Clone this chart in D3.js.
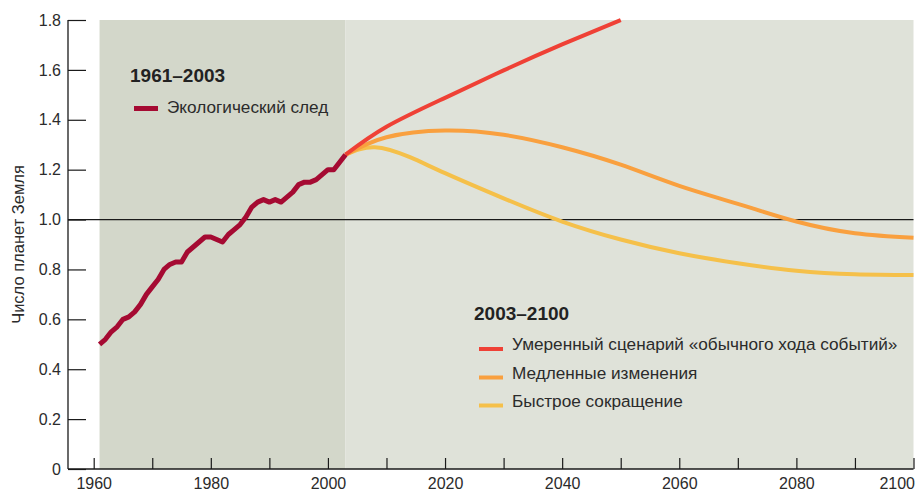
<!DOCTYPE html>
<html><head><meta charset="utf-8">
<script src="https://cdn.jsdelivr.net/npm/d3@7"></script>
<style>
html,body{margin:0;padding:0;background:#fff;}
svg{display:block;font-family:"Liberation Sans",Arial,sans-serif;}
</style></head>
<body><svg id="c" width="919" height="492"></svg>
<script>
// Ecological footprint 1961-2003 (number of planet Earths)
const fpYears = d3.range(1961, 2004);
const fpValues = [0.50,0.52,0.55,0.57,0.60,0.61,0.63,0.66,0.70,0.73,
  0.76,0.80,0.82,0.83,0.83,0.87,0.89,0.91,0.93,0.93,
  0.92,0.91,0.94,0.96,0.98,1.01,1.05,1.07,1.08,1.07,
  1.08,1.07,1.09,1.11,1.14,1.15,1.15,1.16,1.18,1.20,
  1.20,1.23,1.26];
// Scenarios 2003-2100
const redYears = [2003,2010,2020,2030,2040,2050];
const redValues = [1.26,1.372,1.488,1.598,1.702,1.80];
const orangeYears = [2003,2010,2020,2030,2040,2050,2060,2070,2080,2090,2100];
const orangeValues = [1.26,1.33,1.357,1.34,1.29,1.22,1.135,1.063,0.992,0.945,0.927];
const yellowYears = [2003,2008,2014,2020,2030,2040,2050,2060,2070,2080,2090,2100];
const yellowValues = [1.26,1.29,1.25,1.186,1.085,0.992,0.92,0.865,0.825,0.795,0.781,0.778];
const xTicks = d3.range(1960, 2101, 10);
const xLabelTicks = [1960,1980,2000,2020,2040,2060,2080,2100];
const yTicks = [0,0.2,0.4,0.6,0.8,1.0,1.2,1.4,1.6,1.8];
const yTitle = "Число планет Земля";
const legend1Title = "1961–2003";
const legend1Items = ["Экологический след"];
const legend2Title = "2003–2100";
const legend2Items = ["Умеренный сценарий «обычного хода событий»","Медленные изменения","Быстрое сокращение"];

const C = {fp:"#a50a32", red:"#ef4136", orange:"#f9a03f", yellow:"#f5c04a",
  bgDark:"#d3d7ca", bgLight:"#dfe2d9", text:"#2b2b2b"};

const svg = d3.select("#c");
const x = d3.scaleLinear().domain([1960,2100]).range([93.7,913.5]);
const y = d3.scaleLinear().domain([0,1.8]).range([469,20]);
const axisLeftX = 68;
const FONT = "'Liberation Sans',Arial,sans-serif";

// backgrounds
svg.append("rect").attr("x",x(1961)).attr("y",y(1.8)).attr("width",x(2003)-x(1961)).attr("height",y(0)-y(1.8)).attr("fill",C.bgDark);
svg.append("rect").attr("x",x(2003)).attr("y",y(1.8)).attr("width",x(2100)-x(2003)).attr("height",y(0)-y(1.8)).attr("fill",C.bgLight);

// reference line at 1.0
svg.append("line").attr("x1",axisLeftX).attr("x2",x(2100)).attr("y1",y(1)).attr("y2",y(1)).attr("stroke","#1a1a1a").attr("stroke-width",1.2);

// y axis
const yAxis = d3.axisLeft(y).tickValues(yTicks).tickSizeInner(-18).tickSizeOuter(0).tickPadding(7)
  .tickFormat(d => d===0 ? "0" : d3.format(".1f")(d));
const gy = svg.append("g").attr("transform",`translate(${axisLeftX},0)`).call(yAxis)
  .attr("font-size",16).attr("font-family",FONT);
gy.select(".domain").remove();
gy.selectAll(".tick line").attr("stroke","#1a1a1a").attr("stroke-width",1.2);
gy.selectAll(".tick text").attr("fill",C.text);
svg.append("line").attr("x1",axisLeftX).attr("x2",axisLeftX).attr("y1",y(1.8)).attr("y2",y(0)).attr("stroke","#1a1a1a").attr("stroke-width",1.3);

// x axis
const xAxis = d3.axisBottom(x).tickValues(xTicks).tickSizeInner(-11).tickSizeOuter(0).tickPadding(9)
  .tickFormat(d => xLabelTicks.includes(d) ? String(d) : "");
const gx = svg.append("g").attr("transform",`translate(0,${y(0)})`).call(xAxis)
  .attr("font-size",16).attr("font-family",FONT);
gx.select(".domain").remove();
gx.selectAll(".tick line").attr("stroke","#1a1a1a").attr("stroke-width",1.2);
gx.selectAll(".tick text").attr("fill",C.text)
  .attr("text-anchor", d => d===2100 ? "end" : "middle")
  .attr("x", d => d===2100 ? 1 : 0);
svg.append("line").attr("x1",axisLeftX).attr("x2",x(2100)).attr("y1",y(0)).attr("y2",y(0)).attr("stroke","#1a1a1a").attr("stroke-width",1.3);

// y title
svg.append("text").attr("transform",`translate(24,${(y(0)+y(1.8))/2}) rotate(-90)`)
  .attr("text-anchor","middle").attr("font-size",16.5).attr("fill",C.text).text(yTitle);

// lines
const line = d3.line().x(d=>x(d[0])).y(d=>y(d[1]));
function drawSeries(years, vals, color, w, curve){
  svg.append("path").datum(years.map((yr,i)=>[yr,vals[i]]))
    .attr("d", line.curve(curve)).attr("fill","none").attr("stroke",color)
    .attr("stroke-width",w).attr("stroke-linejoin","round").attr("stroke-linecap","butt");
}
drawSeries(yellowYears, yellowValues, C.yellow, 4, d3.curveNatural);
drawSeries(orangeYears, orangeValues, C.orange, 4, d3.curveNatural);
drawSeries(redYears, redValues, C.red, 4, d3.curveNatural);
drawSeries(fpYears, fpValues, C.fp, 5, d3.curveLinear);

// legends
svg.append("text").attr("x",130).attr("y",82).attr("font-size",19).attr("font-weight","bold").attr("fill","#222").text(legend1Title);
legend1Items.forEach((t,i)=>{
  svg.append("line").attr("x1",134).attr("x2",158).attr("y1",108.5).attr("y2",108.5).attr("stroke",C.fp).attr("stroke-width",5);
  svg.append("text").attr("x",167).attr("y",113).attr("font-size",17.2).attr("fill",C.text).text(t);
});
svg.append("text").attr("x",474).attr("y",320).attr("font-size",19).attr("font-weight","bold").attr("fill","#222").text(legend2Title);
const l2c = [C.red, C.orange, C.yellow];
const l2y = [349, 377.5, 405.5];
legend2Items.forEach((t,i)=>{
  svg.append("line").attr("x1",479).attr("x2",503).attr("y1",l2y[i]).attr("y2",l2y[i]).attr("stroke",l2c[i]).attr("stroke-width",4);
  svg.append("text").attr("x",512).attr("y",l2y[i]+1).attr("font-size",17.2).attr("fill",C.text).text(t);
});
</script></body></html>
